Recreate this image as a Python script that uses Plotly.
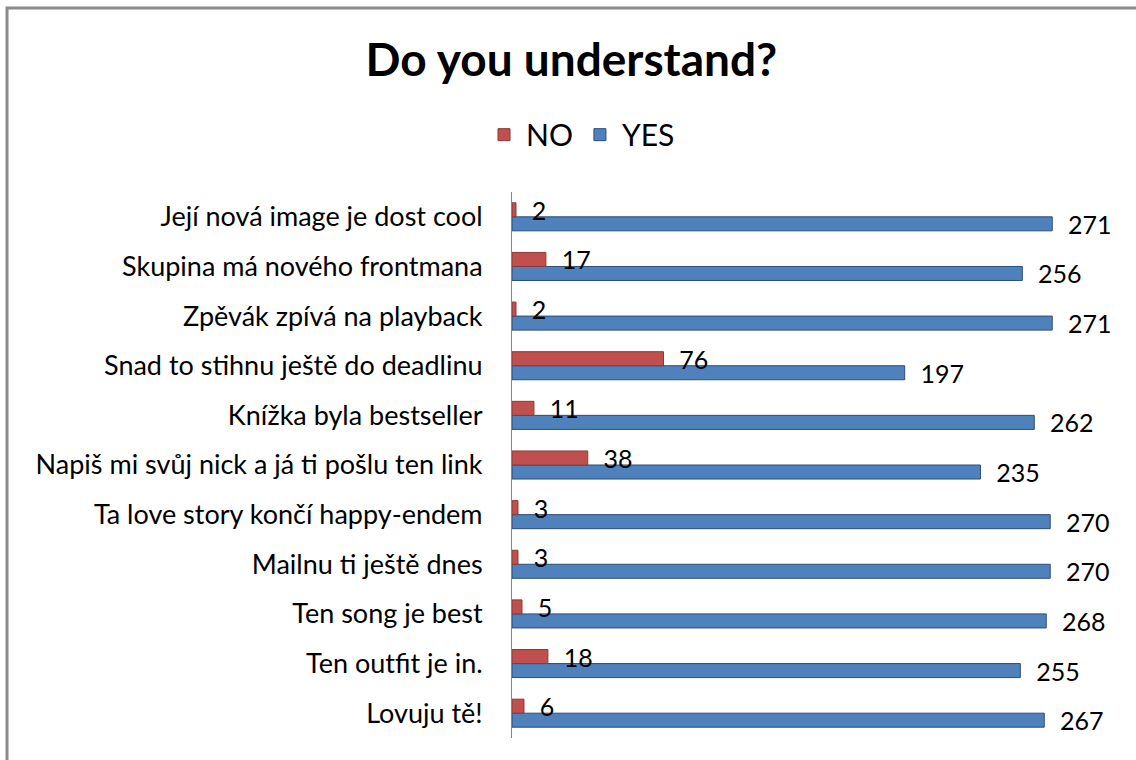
import plotly.graph_objects as go

categories = [
    "Její nová image je dost cool",
    "Skupina má nového frontmana",
    "Zpěvák zpívá na playback",
    "Snad to stihnu ještě do deadlinu",
    "Knížka byla bestseller",
    "Napiš mi svůj nick a já ti pošlu ten link",
    "Ta love story končí happy-endem",
    "Mailnu ti ještě dnes",
    "Ten song je best",
    "Ten outfit je in.",
    "Lovuju tě!",
]
no_values = [2, 17, 2, 76, 11, 38, 3, 3, 5, 18, 6]
yes_values = [271, 256, 271, 197, 262, 235, 270, 270, 268, 255, 267]

FONT = "Lato"

fig = go.Figure()
# YES first (lower in each group), NO second so its labels are drawn on top
fig.add_trace(go.Bar(
    name="YES", y=categories, x=yes_values, orientation="h", legendrank=2,
    marker=dict(color="#4F81BD", line=dict(color="#2C4D75", width=1)),
    text=yes_values, texttemplate="  %{x}", textposition="outside", constraintext="none",
    textfont=dict(family=FONT, size=25, color="#000000"), cliponaxis=False,
))
fig.add_trace(go.Bar(
    name="NO", y=categories, x=no_values, orientation="h", legendrank=1,
    marker=dict(color="#C0504D", line=dict(color="#8C3836", width=1)),
    text=no_values, texttemplate="  %{x}", textposition="outside", constraintext="none",
    textfont=dict(family=FONT, size=25, color="#000000"), cliponaxis=False,
))

fig.update_layout(
    width=1136, height=760,
    paper_bgcolor="white", plot_bgcolor="white",
    barmode="group", bargap=0.435, bargroupgap=0,
    margin=dict(l=512, r=16, t=192, b=22),
    title=dict(text="<b>Do you understand?</b>", x=0.503, xanchor="center",
               y=0.921, yanchor="middle",
               font=dict(family=FONT, size=46, color="#000000")),
    legend=dict(orientation="h", x=(581 - 512) / 608, xanchor="center", y=1.105, yanchor="middle",
                font=dict(family=FONT, size=30, color="#000000"),
                itemwidth=34),
    xaxis=dict(range=[0, 305], visible=False, showgrid=False, zeroline=False),
    yaxis=dict(categoryorder="array", categoryarray=categories[::-1],
               showline=True, linecolor="#868686", linewidth=1,
               ticks="", showgrid=False,
               tickfont=dict(family=FONT, size=27, color="#000000"), ticklabelstandoff=23),
    shapes=[dict(type="rect", xref="paper", yref="paper",
                 x0=-505 / 608, x1=(608 + 40) / 608, y0=-40 / 546, y1=(546 + 184) / 546,
                 line=dict(color="#8A8A8A", width=3), fillcolor="rgba(0,0,0,0)")],
    showlegend=True,
)

fig.write_html("out.html")
